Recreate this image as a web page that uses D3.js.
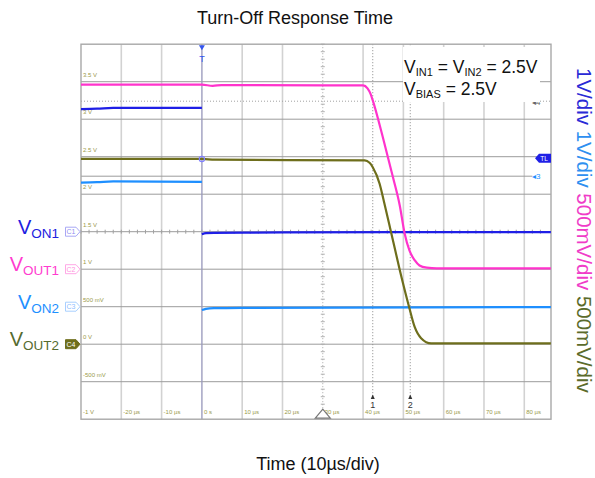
<!DOCTYPE html>
<html>
<head>
<meta charset="utf-8">
<script src="https://cdn.jsdelivr.net/npm/d3@7"></script>
<style>
  body { margin: 0; background: #fff; }
  text { font-family: "Liberation Sans", Arial, sans-serif; }
</style>
</head>
<body>
<div id="chart"></div>
<script>
// Time grid (µs) and the labels printed along the bottom edge
var timeTicks = [-20, -10, 0, 10, 20, 30, 40, 50, 60, 70, 80];
var timeTickLabels = ["-20 µs", "-10 µs", "0 s", "10 µs", "20 µs", "30 µs", "40 µs", "50 µs", "60 µs", "70 µs", "80 µs"];

// Voltage grid labels (channel 4 scale) printed along the left edge
var voltValues = [3.5, 3, 2.5, 2, 1.5, 1, 0.5, 0, -0.5, -1];
var voltLabels = ["3.5 V", "3 V", "2.5 V", "2 V", "1.5 V", "1 V", "500 mV", "0 V", "-500 mV", "-1 V"];

// Cursors (µs)
var cursorTimes = [42.4, 51.7];

// VON1 (ch1), before and after the trigger
var von1PreTime = [-30, -26, -22, 0];
var von1PreVolt = [3.27, 3.28, 3.30, 3.30];
var von1PostTime = [0, 1, 3, 20, 86.6];
var von1PostVolt = [-0.07, -0.04, -0.03, -0.02, -0.01];

// VON2 (ch3)
var von2PreTime = [-30, -26, -22, 0];
var von2PreVolt = [3.31, 3.32, 3.34, 3.33];
var von2PostTime = [0, 1, 3, 10, 86.6];
var von2PostVolt = [-0.09, -0.06, -0.04, -0.03, -0.01];

// VOUT1 (ch2)
var vout1Time = [-30, 0, 2.7, 4.9, 40.0, 41.1, 41.9, 42.4, 44.9, 47.4, 49.1, 50.3, 51.5, 52.8, 54.0, 55.8, 58.3, 86.6];
var vout1Volt = [2.46, 2.46, 2.445, 2.455, 2.45, 2.41, 2.33, 2.25, 1.76, 1.23, 0.85, 0.48, 0.25, 0.12, 0.05, 0.02, 0.01, 0.01];

// VOUT2 (ch4)
var vout2Time = [-30, 0, 3.2, 40.4, 41.6, 42.4, 44.1, 45.1, 47.0, 49.1, 51.4, 52.8, 54.4, 56.9, 86.6];
var vout2Volt = [2.47, 2.47, 2.46, 2.45, 2.42, 2.36, 2.14, 1.92, 1.48, 0.99, 0.50, 0.23, 0.08, 0.01, 0.01];

// Channel settings: volts per division and ground position in divisions
var ch1 = {vdiv: 1, pos: 0, color: "#1f1fe6"};
var ch2 = {vdiv: 0.5, pos: -1, color: "#ff33cc"};
var ch3 = {vdiv: 1, pos: -2, color: "#1e8fff"};
var ch4 = {vdiv: 0.5, pos: -3, color: "#6e6e1c"};

var width = 595, height = 478;
var plot = {left: 81, right: 551, top: 44.2, bottom: 419.2};

var svg = d3.select("#chart")
  .append("svg")
    .attr("width", width)
    .attr("height", height);

// Scales: time in µs, screen divisions vertically
var x = d3.scaleLinear()
    .domain([-30, 86.63])
    .range([plot.left, plot.right]);

var yDiv = d3.scaleLinear()
    .domain([-5, 5])
    .range([plot.bottom, plot.top]);

function chY(ch) {
  return function(v) { return yDiv(v / ch.vdiv + ch.pos); };
}

// Grid: vertical lines
svg.append("g")
  .selectAll("line")
  .data(timeTicks.filter(function(t) { return t != 30; }))
  .enter().append("line")
    .attr("x1", function(d) { return x(d); })
    .attr("x2", function(d) { return x(d); })
    .attr("y1", plot.top)
    .attr("y2", plot.bottom)
    .attr("stroke", "#d2d2d2")
    .attr("stroke-width", 1.6);

// Grid: horizontal lines
svg.append("g")
  .selectAll("line")
  .data(d3.range(-4, 5))
  .enter().append("line")
    .attr("x1", plot.left)
    .attr("x2", plot.right)
    .attr("y1", function(d) { return yDiv(d); })
    .attr("y2", function(d) { return yDiv(d); })
    .attr("stroke", "#9c9c9c")
    .attr("stroke-width", 1);

// Center vertical line (dotted, with minor ticks)
svg.append("line")
  .attr("x1", x(30)).attr("x2", x(30))
  .attr("y1", plot.top).attr("y2", plot.bottom)
  .attr("stroke", "#a8a8a8")
  .attr("stroke-dasharray", "1,2");

svg.append("g")
  .selectAll("line")
  .data(d3.range(-5, 5.01, 0.2))
  .enter().append("line")
    .attr("x1", x(30) - 2).attr("x2", x(30) + 2)
    .attr("y1", function(d) { return yDiv(d); })
    .attr("y2", function(d) { return yDiv(d); })
    .attr("stroke", "#b0b0b0");

// Minor ticks on the center horizontal line
svg.append("g")
  .selectAll("line")
  .data(d3.range(-30, 86, 2))
  .enter().append("line")
    .attr("x1", function(d) { return x(d); })
    .attr("x2", function(d) { return x(d); })
    .attr("y1", yDiv(0) - 2).attr("y2", yDiv(0) + 2)
    .attr("stroke", "#a0a0a0");

// Reference lines (ch4 dotted level, ch3 level)
svg.append("line")
  .attr("x1", plot.left).attr("x2", plot.right)
  .attr("y1", chY(ch4)(3.24)).attr("y2", chY(ch4)(3.24))
  .attr("stroke", "#a0a0a0")
  .attr("stroke-dasharray", "1,2");

svg.append("line")
  .attr("x1", plot.left).attr("x2", x(82))
  .attr("y1", chY(ch4)(2.24)).attr("y2", chY(ch4)(2.24))
  .attr("stroke", "#9c9c9c");

// Cursor lines
svg.append("g")
  .selectAll("line")
  .data(cursorTimes)
  .enter().append("line")
    .attr("x1", function(d) { return x(d); })
    .attr("x2", function(d) { return x(d); })
    .attr("y1", plot.top)
    .attr("y2", 396)
    .attr("stroke", "#888")
    .attr("stroke-dasharray", "1,2");

cursorTimes.forEach(function(t, i) {
  svg.append("path")
    .attr("d", "M" + (x(t) - 2) + ",399 L" + x(t) + ",394.5 L" + (x(t) + 2) + ",399 Z")
    .attr("fill", "#333");
  svg.append("text")
    .attr("x", x(t))
    .attr("y", 408)
    .attr("text-anchor", "middle")
    .attr("font-size", 9)
    .attr("fill", "#333")
    .text(i + 1);
});

// Trigger time line
svg.append("line")
  .attr("x1", x(0)).attr("x2", x(0))
  .attr("y1", plot.top).attr("y2", plot.bottom)
  .attr("stroke", "#9a9ac8")
  .attr("stroke-width", 1);

// Plot border
svg.append("rect")
  .attr("x", plot.left)
  .attr("y", plot.top)
  .attr("width", plot.right - plot.left)
  .attr("height", plot.bottom - plot.top)
  .attr("fill", "none")
  .attr("stroke", "#a8a8a8")
  .attr("stroke-width", 1.4);

// Tiny scope labels
svg.append("g")
  .selectAll("text")
  .data(voltValues)
  .enter().append("text")
    .attr("x", plot.left + 2)
    .attr("y", function(d) { return chY(ch4)(d) - 5; })
    .attr("font-size", 6)
    .attr("fill", "#9a9a4a")
    .text(function(d, i) { return voltLabels[i]; });

svg.append("g")
  .selectAll("text")
  .data(timeTicks)
  .enter().append("text")
    .attr("x", function(d) { return x(d) + 2; })
    .attr("y", 414)
    .attr("font-size", 6)
    .attr("fill", "#9a9a4a")
    .text(function(d, i) { return timeTickLabels[i]; });

// Trigger position triangle at the bottom
svg.append("path")
  .attr("d", "M" + (x(30) - 7.5) + "," + (plot.bottom - 1) + " L" + x(30) + "," + (plot.bottom - 10) +
        " L" + (x(30) + 7.5) + "," + (plot.bottom - 1) + " Z")
  .attr("fill", "#fff")
  .attr("stroke", "#777")
  .attr("stroke-width", 1.2);

// Traces
function drawTrace(times, volts, ch) {
  var pts = times.map(function(t, i) { return [t, volts[i]]; });
  var line = d3.line()
    .x(function(d) { return x(d[0]); })
    .y(function(d) { return chY(ch)(d[1]); })
    .curve(d3.curveMonotoneX);
  svg.append("path")
    .datum(pts)
    .attr("d", line)
    .attr("fill", "none")
    .attr("stroke", ch.color)
    .attr("stroke-width", 2.2);
}

drawTrace(von2PreTime, von2PreVolt, ch3);
drawTrace(von2PostTime, von2PostVolt, ch3);
drawTrace(von1PreTime, von1PreVolt, ch1);
drawTrace(von1PostTime, von1PostVolt, ch1);
drawTrace(vout2Time, vout2Volt, ch4);
drawTrace(vout1Time, vout1Volt, ch2);

// Trigger level marker on VOUT2
svg.append("circle")
  .attr("cx", x(0))
  .attr("cy", chY(ch4)(2.47))
  .attr("r", 2.6)
  .attr("fill", "none")
  .attr("stroke", "#8080ff")
  .attr("stroke-width", 1.2);

// Trigger "T" marker at the top
svg.append("path")
  .attr("d", "M" + (x(0) - 3) + "," + (plot.top + 1) + " L" + (x(0) + 3) + "," + (plot.top + 1) +
        " L" + x(0) + "," + (plot.top + 6) + " Z")
  .attr("fill", "#3355ee");
svg.append("text")
  .attr("x", x(0))
  .attr("y", 62)
  .attr("text-anchor", "middle")
  .attr("font-size", 9)
  .attr("fill", "#3355ee")
  .text("T");

// Right side markers: TL and 3
var tlY = chY(ch4)(2.48);
svg.append("path")
  .attr("d", "M" + (plot.right - 16) + "," + tlY + " L" + (plot.right - 12) + "," + (tlY - 4.5) +
        " L" + plot.right + "," + (tlY - 4.5) + " L" + plot.right + "," + (tlY + 4.5) +
        " L" + (plot.right - 12) + "," + (tlY + 4.5) + " Z")
  .attr("fill", "#1f1fe6");
svg.append("text")
  .attr("x", plot.right - 7)
  .attr("y", tlY + 2.5)
  .attr("text-anchor", "middle")
  .attr("font-size", 6.5)
  .attr("fill", "#fff")
  .text("TL");

svg.append("text")
  .attr("x", 532)
  .attr("y", chY(ch4)(2.24) + 3)
  .attr("font-size", 8)
  .attr("fill", ch3.color)
  .text("◂3");

svg.append("text")
  .attr("x", 532)
  .attr("y", chY(ch4)(3.24) + 4)
  .attr("font-size", 8)
  .attr("fill", "#666")
  .text("◂4");

// Annotation box
svg.append("rect")
  .attr("x", 403)
  .attr("y", 47)
  .attr("width", 137)
  .attr("height", 55)
  .attr("fill", "#fff");

var ann1 = svg.append("text")
  .attr("x", 404)
  .attr("y", 73)
  .attr("font-size", 17.5)
  .attr("fill", "#111");
ann1.append("tspan").text("V");
ann1.append("tspan").attr("font-size", 11).attr("dy", 3).text("IN1");
ann1.append("tspan").attr("dy", -3).text(" = V");
ann1.append("tspan").attr("font-size", 11).attr("dy", 3).text("IN2");
ann1.append("tspan").attr("dy", -3).text(" = 2.5V");

var ann2 = svg.append("text")
  .attr("x", 404)
  .attr("y", 94.5)
  .attr("font-size", 17.5)
  .attr("fill", "#111");
ann2.append("tspan").text("V");
ann2.append("tspan").attr("font-size", 11).attr("dy", 3).text("BIAS");
ann2.append("tspan").attr("dy", -3).text(" = 2.5V");

// Channel labels on the left
var chLabels = [
  {v: "V", sub: "ON1", ch: ch1, color: "#2020e0", tag: "C1", tagStroke: "#a8a8f5", tagText: "#9090f0", filled: false},
  {v: "V", sub: "OUT1", ch: ch2, color: "#ff3ccf", tag: "C2", tagStroke: "#ffa8e6", tagText: "#ff90de", filled: false},
  {v: "V", sub: "ON2", ch: ch3, color: "#1e90ff", tag: "C3", tagStroke: "#a8d0ff", tagText: "#8cc0ff", filled: false},
  {v: "V", sub: "OUT2", ch: ch4, color: "#556b2f", tag: "C4", tagStroke: "#6e6e1c", tagText: "#fff", filled: true}
];

chLabels.forEach(function(d) {
  var y0 = chY(d.ch)(0);
  var t = svg.append("text")
    .attr("x", 59)
    .attr("y", y0 + 2)
    .attr("text-anchor", "end")
    .attr("fill", d.color)
    .attr("font-size", 20);
  t.append("tspan").text(d.v);
  t.append("tspan").attr("font-size", 13.5).attr("dy", 4).text(d.sub);

  svg.append("path")
    .attr("d", "M65.5," + (y0 - 4.5) + " L76," + (y0 - 4.5) + " L80," + y0 + " L76," + (y0 + 4.5) +
          " L65.5," + (y0 + 4.5) + " Z")
    .attr("fill", d.filled ? d.tagStroke : "#fff")
    .attr("stroke", d.tagStroke)
    .attr("stroke-width", 1);
  svg.append("text")
    .attr("x", 71)
    .attr("y", y0 + 2.5)
    .attr("text-anchor", "middle")
    .attr("font-size", 7)
    .attr("fill", d.tagText)
    .text(d.tag);
});

// Scale text on the right, rotated
var rightText = svg.append("text")
  .attr("transform", "translate(577,68) rotate(90)")
  .attr("font-size", 20.5);
rightText.append("tspan").attr("fill", "#2a2ad6").text("1V/div ");
rightText.append("tspan").attr("fill", "#2e8ff0").text("1V/div ");
rightText.append("tspan").attr("fill", "#f03cc8").text("500mV/div ");
rightText.append("tspan").attr("fill", "#5b6b2b").text("500mV/div");

// Title and axis title
svg.append("text")
  .attr("x", 295)
  .attr("y", 24)
  .attr("text-anchor", "middle")
  .attr("font-size", 18)
  .attr("fill", "#111")
  .text("Turn-Off Response Time");

svg.append("text")
  .attr("x", 318)
  .attr("y", 470)
  .attr("text-anchor", "middle")
  .attr("font-size", 18)
  .attr("fill", "#111")
  .text("Time (10µs/div)");
</script>
</body>
</html>
